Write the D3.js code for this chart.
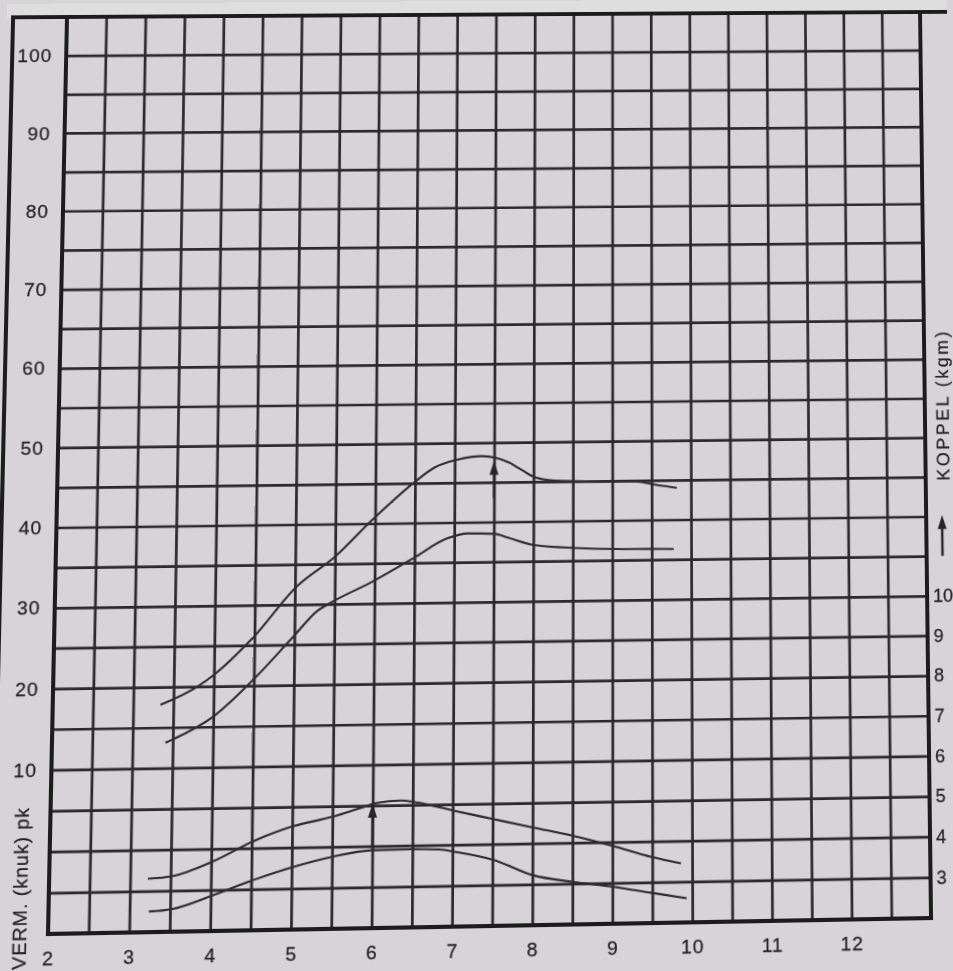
<!DOCTYPE html>
<html>
<head>
<meta charset="utf-8">
<script src="https://cdn.jsdelivr.net/npm/d3@7"></script>
<style>
html, body { margin: 0; padding: 0; background: #d6d4d7; overflow: hidden; }
#vis { width: 953px; height: 971px; }
svg { display: block; transform-origin: 0 0; }
text { font-family: "Liberation Sans", Arial, sans-serif; fill: #242424; font-size: 19px; stroke: #242424; stroke-width: 0.25px; }
</style>
</head>
<body>
<div id="vis"></div>
<script>
// tick labels
var rpmTicks = [2, 3, 4, 5, 6, 7, 8, 9, 10, 11, 12];
var powerTicks = [10, 20, 30, 40, 50, 60, 70, 80, 90, 100];
var koppelTicks = [3, 4, 5, 6, 7, 8, 9, 10];

// vermogen (pk), two curves
var rpmA = [3.34, 3.8, 4.0, 4.47, 5.03, 5.5, 5.97, 6.51, 6.74, 7.04, 7.34, 7.51, 7.68, 7.85, 8.03, 8.28, 8.79, 9.31, 9.56, 9.82];
var powerA = [17.8, 20, 21.4, 25.8, 32.3, 35.9, 40.5, 45.25, 46.9, 47.9, 48.3, 48.1, 47.5, 46.5, 45.5, 45.1, 44.95, 44.85, 44.4, 44.0];
var rpmB = [3.41, 3.5, 4.0, 4.5, 4.97, 5.29, 5.46, 5.97, 6.49, 6.91, 7.17, 7.51, 7.68, 8.03, 8.54, 9.05, 9.48, 9.78];
var powerB = [13.1, 13.5, 16.25, 20.8, 25.8, 29.2, 30.2, 32.7, 35.6, 38, 38.6, 38.5, 38, 37, 36.6, 36.4, 36.35, 36.3];

// koppel (kgm), two curves
var rpmC = [3.22, 3.52, 4.03, 4.52, 5.01, 5.51, 5.8, 6.05, 6.35, 6.54, 7.03, 7.52, 8.01, 8.51, 9.0, 9.49, 9.86];
var koppelC = [3.3, 3.35, 3.7, 4.17, 4.52, 4.74, 4.91, 5.06, 5.11, 5.06, 4.83, 4.61, 4.39, 4.17, 3.91, 3.62, 3.45];
var rpmD = [3.24, 3.52, 4.03, 4.52, 5.01, 5.51, 6.0, 6.49, 6.84, 7.03, 7.52, 8.01, 8.51, 9.0, 9.49, 9.93];
var koppelD = [2.5, 2.55, 2.87, 3.22, 3.52, 3.76, 3.9, 3.91, 3.89, 3.83, 3.61, 3.22, 3.04, 2.91, 2.74, 2.59];

// arrows marking the maxima
var arrowRpm = [7.5, 6];
var arrowFrom = [43, 4.0];
var arrowTo = [47.7, 5.05];
var arrowAxis = ['p', 'k'];

var width = 953,
    height = 971;

var margin = {
    top: 14,
    bottom: 45,
    left: 60,
    right: 28
};

var L = margin.left,
    T = margin.top,
    R = width - margin.right,
    B = height - margin.bottom;

var svg = d3.select('#vis')
    .append('svg')
    .attr('width', width)
    .attr('height', height);

var x_scale = d3.scaleLinear().domain([2, 13]).range([L, R]);
var y_power = d3.scaleLinear().domain([-10, 105]).range([B, T]);
var y_koppel = d3.scaleLinear().domain([2, 25]).range([B, T]);

// lighter strip of paper above the frame
svg.append('rect')
    .attr('x', -40)
    .attr('y', -30)
    .attr('width', width + 80)
    .attr('height', T + 30)
    .attr('fill', '#dfdedf');

// grid
svg.append('g')
    .attr('class', 'grid')
    .attr('transform', 'translate(0,' + B + ')')
    .call(d3.axisBottom(x_scale).ticks(22).tickSize(-(B - T)).tickFormat(''));

svg.append('g')
    .attr('class', 'grid')
    .attr('transform', 'translate(' + L + ',0)')
    .call(d3.axisLeft(y_power).ticks(23).tickSize(-(R - L)).tickFormat(''));

svg.selectAll('.grid .domain').remove();
svg.selectAll('.grid line')
    .attr('stroke', '#2a2a2a')
    .attr('stroke-width', 2.7);

// frame
svg.append('rect')
    .attr('x', L)
    .attr('y', T)
    .attr('width', R - L)
    .attr('height', B - T)
    .attr('fill', 'none')
    .attr('stroke', '#1c1c1c')
    .attr('stroke-width', 4);

svg.append('path')
    .attr('d', 'M' + (L - 54) + ',' + (B + 40) + 'V' + T + 'H' + (R + 40))
    .attr('fill', 'none')
    .attr('stroke', '#1c1c1c')
    .attr('stroke-width', 4);

// axes labels
var left_axis = d3.axisLeft(y_power).tickValues(powerTicks).tickSize(0).tickPadding(14);
svg.append('g')
    .attr('class', 'axis')
    .attr('transform', 'translate(' + L + ',0)')
    .call(left_axis);

var right_axis = d3.axisRight(y_koppel).tickValues(koppelTicks).tickSize(0).tickPadding(6);
svg.append('g')
    .attr('class', 'axis right')
    .attr('transform', 'translate(' + R + ',0)')
    .call(right_axis);

var bottom_axis = d3.axisBottom(x_scale).tickValues(rpmTicks).tickSize(0).tickPadding(17);
svg.append('g')
    .attr('class', 'axis')
    .attr('transform', 'translate(0,' + B + ')')
    .call(bottom_axis);

svg.selectAll('.axis .domain').remove();
svg.selectAll('.axis text')
    .attr('font-family', null)
    .attr('font-size', null)
    .style('letter-spacing', '1px');
svg.selectAll('.right text')
    .style('letter-spacing', '0px')
    .style('font-size', '18px');

svg.append('text')
    .attr('transform', 'translate(' + (L - 21) + ',' + (B + 34) + ') rotate(-90)')
    .attr('textLength', 156)
    .attr('lengthAdjust', 'spacing')
    .text('VERM. (knuk) pk');

svg.append('text')
    .attr('transform', 'translate(' + (R + 24) + ',' + y_koppel(12.9) + ') rotate(-90)')
    .attr('textLength', y_koppel(12.9) - y_koppel(16.7))
    .attr('lengthAdjust', 'spacing')
    .style('font-size', '18px')
    .text('KOPPEL (kgm)');

function arrow(xp, y0, y1, w) {
    svg.append('line')
        .attr('x1', xp).attr('x2', xp)
        .attr('y1', y0).attr('y2', y1 + 8)
        .attr('stroke', '#262626')
        .attr('stroke-width', w);
    svg.append('path')
        .attr('d', 'M' + xp + ',' + y1 + 'L' + (xp - 4.5) + ',' + (y1 + 14) + 'L' + (xp + 4.5) + ',' + (y1 + 14) + 'Z')
        .attr('fill', '#262626');
}

arrow(R + 16, y_koppel(11.0), y_koppel(12.03), 2.5);

// curves
var curves = [
    [rpmA, powerA, y_power],
    [rpmB, powerB, y_power],
    [rpmC, koppelC, y_koppel],
    [rpmD, koppelD, y_koppel]
];

curves.forEach(function (c) {
    var pts = c[0].map(function (r, i) { return [r, c[1][i]]; });
    var line = d3.line()
        .x(function (d) { return x_scale(d[0]); })
        .y(function (d) { return c[2](d[1]); })
        .curve(d3.curveMonotoneX);
    svg.append('path')
        .attr('d', line(pts))
        .attr('fill', 'none')
        .attr('stroke', '#2e2e2e')
        .attr('stroke-width', 2.1);
});

arrowRpm.forEach(function (r, i) {
    var ys = arrowAxis[i] == 'p' ? y_power : y_koppel;
    arrow(x_scale(r), ys(arrowFrom[i]), ys(arrowTo[i]), 2.2);
});

// the photo is slightly out of square: warp the flat drawing onto its corners
function homography(src, dst) {
    var A = [], b = [];
    for (var i = 0; i < 4; i++) {
        var sx = src[i][0], sy = src[i][1], dx = dst[i][0], dy = dst[i][1];
        A.push([sx, sy, 1, 0, 0, 0, -sx * dx, -sy * dx]); b.push(dx);
        A.push([0, 0, 0, sx, sy, 1, -sx * dy, -sy * dy]); b.push(dy);
    }
    var n = 8, r, k;
    for (var c = 0; c < n; c++) {
        var p = c;
        for (r = c + 1; r < n; r++) if (Math.abs(A[r][c]) > Math.abs(A[p][c])) p = r;
        var t = A[c]; A[c] = A[p]; A[p] = t;
        t = b[c]; b[c] = b[p]; b[p] = t;
        for (r = c + 1; r < n; r++) {
            var f = A[r][c] / A[c][c];
            for (k = c; k < n; k++) A[r][k] -= f * A[c][k];
            b[r] -= f * b[c];
        }
    }
    var h = [];
    for (r = n - 1; r >= 0; r--) {
        var s = b[r];
        for (k = r + 1; k < n; k++) s -= A[r][k] * h[k];
        h[r] = s / A[r][r];
    }
    return h;
}

var h = homography(
    [[L, T], [R, T], [L, B], [R, B]],
    [[67, 17], [920, 12], [48, 934], [931, 918]]
);

svg.style('transform', 'matrix3d(' + [h[0], h[3], 0, h[6], h[1], h[4], 0, h[7], 0, 0, 1, 0, h[2], h[5], 0, 1].join(',') + ')');
</script>
</body>
</html>
